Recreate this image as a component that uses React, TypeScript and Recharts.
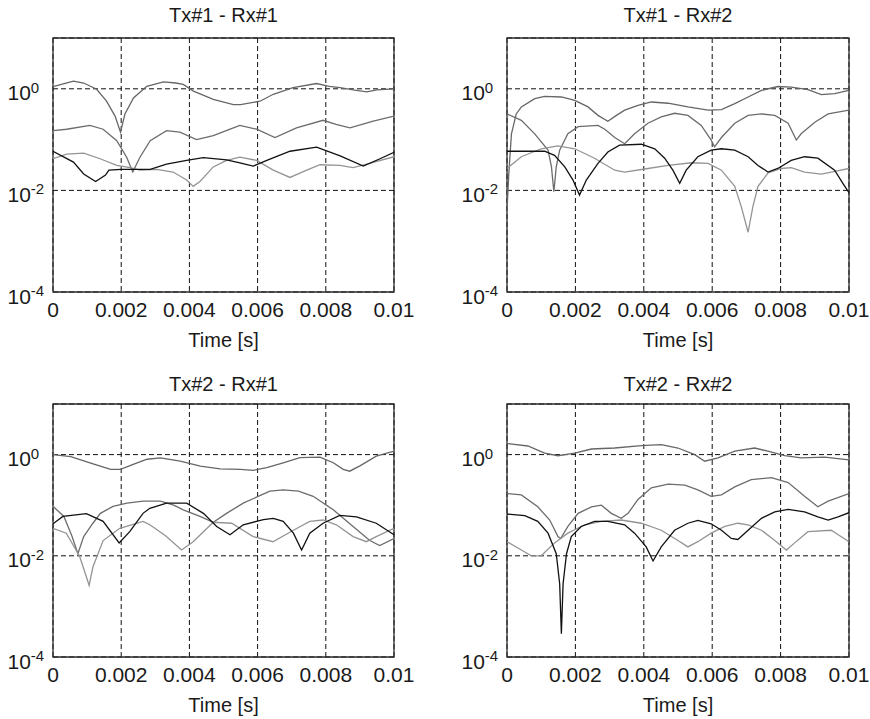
import { LineChart, Line, XAxis, YAxis, CartesianGrid, ReferenceArea } from "recharts";

// [time in ms, amplitude]
type Pt = [number, number];

const FONT = "'Liberation Sans', Arial, Helvetica, sans-serif";
const TEXT = "#1a1a1a";

const xTicks = [0, 0.002, 0.004, 0.006, 0.008, 0.01];
const yTicks = [1e-4, 1e-2, 1];

// Tx#1 - Rx#1
const p1Upper: Pt[] = [[0, 1.1], [0.3, 1.25], [0.6, 1.42], [0.9, 1.3], [1.28, 0.98], [1.57, 0.57], [1.82, 0.29], [1.98, 0.14], [2.11, 0.32], [2.36, 0.66], [2.75, 1.12], [3.24, 1.37], [3.6, 1.3], [3.82, 1.22], [4.12, 0.9], [4.7, 0.62], [5.29, 0.49], [5.5, 0.49], [6.07, 0.57], [6.46, 0.78], [7.04, 1.05], [7.73, 1.27], [8.1, 1.12], [8.42, 1.05], [8.8, 0.95], [9.2, 0.87], [9.5, 0.95], [10, 1.0]];
const p1Middle: Pt[] = [[0, 0.15], [0.4, 0.16], [1.08, 0.19], [1.47, 0.16], [1.87, 0.095], [2.16, 0.045], [2.34, 0.023], [2.55, 0.045], [2.85, 0.095], [3.33, 0.15], [3.72, 0.14], [4.21, 0.1], [4.7, 0.12], [5.29, 0.17], [5.48, 0.19], [5.97, 0.16], [6.51, 0.11], [7.14, 0.17], [7.92, 0.24], [8.3, 0.2], [8.71, 0.17], [9.39, 0.23], [10, 0.29]];
const p1Lower: Pt[] = [[0, 0.042], [0.4, 0.052], [0.9, 0.054], [1.38, 0.042], [1.87, 0.031], [2.26, 0.028], [2.55, 0.025], [3.04, 0.026], [3.52, 0.023], [3.92, 0.016], [4.11, 0.012], [4.31, 0.015], [4.7, 0.029], [5.09, 0.039], [5.48, 0.045], [5.97, 0.039], [6.46, 0.025], [6.95, 0.018], [7.44, 0.025], [7.83, 0.032], [8.41, 0.031], [8.8, 0.028], [9.2, 0.033], [10, 0.046]];
const p1Black: Pt[] = [[0, 0.059], [0.6, 0.036], [0.9, 0.021], [1.25, 0.015], [1.54, 0.02], [1.64, 0.025], [2.0, 0.026], [2.85, 0.026], [3.33, 0.033], [3.92, 0.039], [4.41, 0.044], [5.09, 0.04], [5.48, 0.035], [5.87, 0.03], [6.27, 0.039], [6.95, 0.059], [7.73, 0.071], [8.42, 0.048], [9.1, 0.03], [9.59, 0.042], [10, 0.056]];

// Tx#1 - Rx#2
const p2Upper: Pt[] = [[0, 0.004], [0.05, 0.02], [0.13, 0.13], [0.27, 0.32], [0.42, 0.44], [0.81, 0.64], [1.1, 0.71], [1.59, 0.69], [1.98, 0.59], [2.37, 0.44], [2.66, 0.3], [2.95, 0.23], [3.2, 0.3], [3.44, 0.38], [3.83, 0.47], [4.22, 0.55], [4.71, 0.52], [5.29, 0.44], [5.88, 0.38], [6.27, 0.39], [6.66, 0.51], [7.05, 0.69], [7.44, 0.93], [7.92, 1.11], [8.31, 1.08], [8.8, 0.96], [9.19, 0.77], [9.58, 0.8], [10, 0.93]];
const p2Middle: Pt[] = [[0, 0.32], [0.42, 0.24], [0.81, 0.13], [1.2, 0.062], [1.3, 0.029], [1.37, 0.0094], [1.44, 0.029], [1.54, 0.062], [1.78, 0.13], [2.08, 0.18], [2.66, 0.19], [2.86, 0.16], [3.15, 0.11], [3.44, 0.083], [3.73, 0.13], [4.12, 0.21], [4.51, 0.28], [4.9, 0.33], [5.29, 0.3], [5.68, 0.19], [5.97, 0.098], [6.07, 0.072], [6.27, 0.11], [6.66, 0.21], [7.05, 0.3], [7.44, 0.32], [7.83, 0.3], [8.22, 0.21], [8.46, 0.098], [8.6, 0.13], [9.0, 0.22], [9.39, 0.32], [10, 0.38]];
const p2Lower: Pt[] = [[0, 0.027], [0.42, 0.046], [1.0, 0.066], [1.49, 0.075], [1.98, 0.066], [2.56, 0.043], [3.15, 0.025], [3.44, 0.023], [4.12, 0.027], [4.71, 0.031], [5.39, 0.035], [5.88, 0.034], [6.27, 0.025], [6.66, 0.012], [6.85, 0.0048], [7.05, 0.0015], [7.19, 0.0048], [7.34, 0.012], [7.63, 0.022], [8.02, 0.027], [8.31, 0.028], [8.7, 0.023], [9.19, 0.021], [9.48, 0.023], [10, 0.027]];
const p2Black: Pt[] = [[0, 0.059], [1.1, 0.059], [1.39, 0.049], [1.69, 0.029], [1.93, 0.016], [2.12, 0.0081], [2.32, 0.016], [2.66, 0.034], [2.95, 0.057], [3.29, 0.078], [3.93, 0.081], [4.32, 0.066], [4.61, 0.043], [4.85, 0.025], [5.05, 0.0138], [5.24, 0.025], [5.58, 0.046], [5.97, 0.062], [6.27, 0.066], [6.66, 0.062], [7.05, 0.046], [7.34, 0.031], [7.63, 0.023], [7.92, 0.027], [8.31, 0.039], [8.7, 0.046], [9.09, 0.043], [9.58, 0.025], [9.82, 0.0138], [10, 0.009]];

// Tx#2 - Rx#1
const p3Upper: Pt[] = [[0, 1.0], [0.52, 0.91], [1.2, 0.65], [1.69, 0.51], [1.98, 0.51], [2.37, 0.65], [2.76, 0.81], [3.15, 0.86], [3.73, 0.74], [4.32, 0.59], [4.9, 0.52], [5.49, 0.51], [5.88, 0.49], [6.27, 0.55], [6.75, 0.69], [7.24, 0.87], [7.83, 0.89], [8.22, 0.69], [8.51, 0.51], [8.7, 0.47], [9.0, 0.6], [9.48, 0.93], [10, 1.17]];
const p3Middle: Pt[] = [[0, 0.095], [0.32, 0.06], [0.56, 0.024], [0.73, 0.011], [0.9, 0.024], [1.17, 0.044], [1.39, 0.069], [1.76, 0.095], [2.17, 0.11], [2.64, 0.12], [3.15, 0.12], [3.54, 0.1], [3.82, 0.081], [4.31, 0.06], [4.7, 0.046], [5.09, 0.069], [5.58, 0.11], [6.36, 0.19], [6.75, 0.2], [7.2, 0.19], [7.63, 0.15], [8.22, 0.081], [8.8, 0.038], [9.29, 0.02], [9.58, 0.016], [10, 0.022]];
const p3Lower: Pt[] = [[0, 0.035], [0.39, 0.028], [0.78, 0.0098], [0.98, 0.0038], [1.06, 0.0026], [1.17, 0.006], [1.47, 0.02], [1.96, 0.035], [2.64, 0.048], [2.84, 0.041], [3.3, 0.025], [3.77, 0.013], [4.11, 0.019], [4.7, 0.046], [5.24, 0.044], [5.87, 0.024], [6.45, 0.019], [7.05, 0.032], [7.53, 0.048], [7.92, 0.051], [8.31, 0.041], [8.8, 0.024], [9.19, 0.019], [9.48, 0.024], [10, 0.035]];
const p3Black: Pt[] = [[0, 0.043], [0.29, 0.06], [0.98, 0.068], [1.47, 0.048], [1.94, 0.018], [2.25, 0.03], [2.64, 0.069], [2.84, 0.087], [3.33, 0.11], [3.92, 0.11], [4.41, 0.069], [4.8, 0.038], [5.19, 0.026], [5.58, 0.041], [6.17, 0.052], [6.46, 0.055], [6.75, 0.048], [7.05, 0.028], [7.29, 0.013], [7.53, 0.028], [7.92, 0.044], [8.41, 0.063], [8.9, 0.059], [9.48, 0.044], [10, 0.026]];

// Tx#2 - Rx#2
const p4Upper: Pt[] = [[0, 1.66], [0.61, 1.48], [1.1, 1.07], [1.49, 0.95], [1.98, 1.07], [2.47, 1.29], [3.15, 1.35], [3.93, 1.51], [4.51, 1.58], [5.0, 1.35], [5.49, 1.0], [5.78, 0.74], [6.17, 0.86], [6.66, 1.17], [7.24, 1.35], [7.63, 1.17], [8.12, 0.95], [8.6, 0.86], [9.29, 0.89], [10, 0.79]];
const p4Middle: Pt[] = [[0, 0.17], [0.42, 0.16], [0.9, 0.093], [1.25, 0.051], [1.49, 0.024], [1.57, 0.022], [1.78, 0.038], [2.08, 0.069], [2.47, 0.093], [2.76, 0.1], [3.05, 0.069], [3.34, 0.055], [3.54, 0.069], [3.83, 0.13], [4.22, 0.22], [4.71, 0.26], [5.2, 0.25], [5.58, 0.2], [5.97, 0.15], [6.27, 0.16], [6.66, 0.23], [7.14, 0.32], [7.73, 0.35], [8.22, 0.28], [8.7, 0.15], [9.09, 0.093], [9.39, 0.12], [10, 0.17]];
const p4Lower: Pt[] = [[0, 0.019], [0.42, 0.013], [0.71, 0.01], [1.0, 0.01], [1.39, 0.018], [1.78, 0.028], [2.27, 0.041], [2.76, 0.048], [3.34, 0.051], [3.93, 0.044], [4.51, 0.032], [5.0, 0.02], [5.29, 0.015], [5.58, 0.019], [5.97, 0.028], [6.37, 0.038], [6.75, 0.044], [7.05, 0.041], [7.44, 0.032], [7.83, 0.02], [8.17, 0.013], [8.41, 0.018], [8.8, 0.03], [9.48, 0.032], [10, 0.019]];
const p4Black: Pt[] = [[0, 0.067], [0.52, 0.062], [0.9, 0.048], [1.2, 0.028], [1.44, 0.011], [1.54, 0.0028], [1.59, 0.00029], [1.64, 0.0028], [1.74, 0.011], [1.88, 0.024], [2.17, 0.038], [2.56, 0.048], [2.95, 0.048], [3.44, 0.041], [3.73, 0.028], [4.07, 0.015], [4.27, 0.0079], [4.51, 0.015], [4.9, 0.032], [5.29, 0.044], [5.58, 0.05], [5.97, 0.043], [6.27, 0.032], [6.56, 0.022], [6.75, 0.021], [7.05, 0.032], [7.44, 0.055], [7.83, 0.074], [8.22, 0.083], [8.7, 0.074], [9.09, 0.059], [9.39, 0.051], [9.68, 0.059], [10, 0.071]];

// upper gray, middle gray, light gray, black
const lineColors = ["#666666", "#6c6c6c", "#949494", "#111111"];

const panels = [
  { title: "Tx#1 - Rx#1", left: 53, top: 38, width: 341, height: 254, titleY: 22, series: [p1Upper, p1Middle, p1Lower, p1Black] },
  { title: "Tx#1 - Rx#2", left: 507, top: 38, width: 342, height: 254, titleY: 22, series: [p2Upper, p2Middle, p2Lower, p2Black] },
  { title: "Tx#2 - Rx#1", left: 53, top: 404, width: 341, height: 253, titleY: 390.5, series: [p3Upper, p3Middle, p3Lower, p3Black] },
  { title: "Tx#2 - Rx#2", left: 507, top: 404, width: 342, height: 253, titleY: 390.5, series: [p4Upper, p4Middle, p4Lower, p4Black] },
];

const AXIS_W = 53;
const TOP_M = 38;
const XAXIS_H = 62;
const RIGHT_M = 30;

function XTick(props: any) {
  const { x, y, payload } = props;
  return (
    <text x={x} y={y + 24.5} textAnchor="middle" fontSize={21} fill={TEXT} fontFamily={FONT}>
      {String(payload.value)}
    </text>
  );
}

function YTick(props: any) {
  const { x, y, payload } = props;
  const exp = Math.round(Math.log10(payload.value));
  return (
    <text x={x - 45.5} y={y + 11.5} textAnchor="start" fontSize={21} fill={TEXT} fontFamily={FONT}>
      10
      <tspan dy={-7.5} fontSize={15}>
        {String(exp)}
      </tspan>
    </text>
  );
}

function Panel({ p }: { p: (typeof panels)[number] }) {
  return (
    <div style={{ position: "absolute", left: p.left - AXIS_W, top: p.top - TOP_M }}>
      <LineChart
        width={AXIS_W + p.width + RIGHT_M}
        height={TOP_M + p.height + XAXIS_H}
        margin={{ top: TOP_M, right: RIGHT_M, bottom: 0, left: 0 }}
      >
        <CartesianGrid stroke="#111" strokeDasharray="5 3" strokeWidth={1} />
        <XAxis
          dataKey="t"
          type="number"
          domain={[0, 0.01]}
          ticks={xTicks}
          interval={0}
          allowDataOverflow
          axisLine={false}
          tickLine={false}
          tickSize={0}
          tickMargin={0}
          height={XAXIS_H}
          tick={XTick}
          label={{
            value: "Time [s]",
            position: "insideBottom",
            offset: 7.5,
            fontSize: 20,
            fill: TEXT,
            fontFamily: FONT,
          }}
        />
        <YAxis
          type="number"
          scale="log"
          domain={[1e-4, 10]}
          ticks={yTicks}
          interval={0}
          allowDataOverflow
          axisLine={false}
          tickLine={false}
          tickSize={0}
          tickMargin={0}
          width={AXIS_W}
          tick={YTick}
        />
        <ReferenceArea x1={0} x2={0.01} y1={1e-4} y2={10} fill="none" fillOpacity={0} stroke="#2a2a2a" strokeWidth={1.3} />
        {p.series.map((pts, i) => (
          <Line
            key={i}
            data={pts.map(([ms, v]) => ({ t: ms / 1000, v }))}
            dataKey="v"
            type="linear"
            dot={false}
            stroke={lineColors[i]}
            strokeWidth={1.3}
            isAnimationActive={false}
          />
        ))}
      </LineChart>
    </div>
  );
}

export default function App() {
  return (
    <div style={{ position: "absolute", left: 0, top: 0, width: 870, height: 719, background: "#fff", overflow: "hidden" }}>
      {panels.map((p) => (
        <Panel key={p.title} p={p} />
      ))}
      {panels.map((p) => (
        <div
          key={"t" + p.title}
          style={{
            position: "absolute",
            left: p.left,
            width: p.width,
            top: p.titleY - 17,
            lineHeight: "20px",
            fontSize: 20,
            fontFamily: FONT,
            color: TEXT,
            textAlign: "center",
            whiteSpace: "nowrap",
          }}
        >
          {p.title}
        </div>
      ))}
    </div>
  );
}
